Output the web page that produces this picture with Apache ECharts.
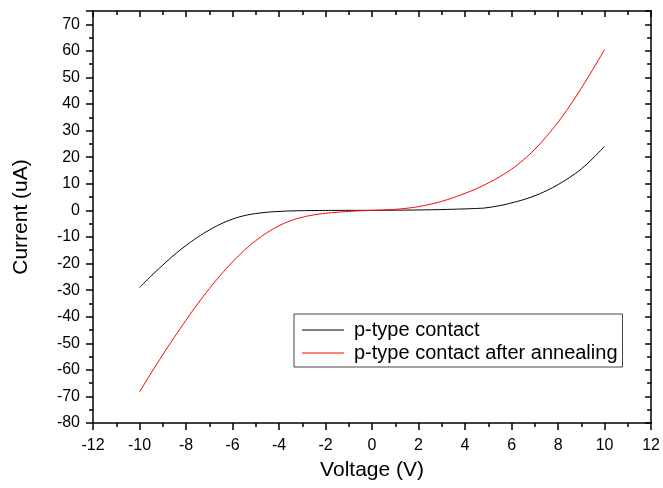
<!DOCTYPE html>
<html>
<head>
<meta charset="utf-8">
<script src="https://cdn.jsdelivr.net/npm/echarts@6/dist/echarts.min.js"></script>
<style>html,body{margin:0;padding:0;background:#fff}#c{width:663px;height:488px}</style>
</head>
<body>
<div id="c"></div>
<script>
var voltsBlack = [-10,-9.5,-9,-8.5,-8,-7.5,-7,-6.5,-6,-5.5,-5,-4.5,-4,-3.5,-3,-2.5,-2,-1.5,-1,-0.5,0,0.5,1,1.5,2,2.5,3,3.5,4,4.5,4.85,5.5,6,6.5,7,7.5,8,8.5,9,9.5,10];
var currentBlack = [-29.1,-24.7,-20.6,-16.7,-13.2,-10.1,-7.4,-5.1,-3.3,-2.0,-1.2,-0.7,-0.4,-0.22,-0.12,-0.07,-0.04,-0.02,0,0,0,0.03,0.06,0.1,0.15,0.22,0.3,0.42,0.55,0.72,0.9,1.8,2.8,4.0,5.5,7.4,9.7,12.4,15.6,19.6,24.1];
var voltsRed = [-10,-9.5,-9,-8.5,-8,-7.5,-7,-6.5,-6,-5.5,-5,-4.5,-4,-3.5,-3,-2.5,-2,-1.5,-1,-0.5,0,0.5,1,1.5,2,2.5,3,3.5,4,4.5,5,5.5,6,6.5,7,7.5,8,8.5,9,9.5,10];
var currentRed = [-68.3,-61.2,-54.3,-47.7,-41.3,-35.2,-29.5,-24.2,-19.4,-15.1,-11.4,-8.3,-5.8,-3.9,-2.6,-1.7,-1.1,-0.7,-0.4,-0.15,0,0.15,0.4,0.8,1.4,2.3,3.4,4.8,6.4,8.2,10.3,12.7,15.5,18.9,23.0,27.8,33.2,39.3,46.0,53.1,60.5];
var seriesNames = ['p-type contact','p-type contact after annealing'];

function pairs(xs, ys){ return xs.map(function(x,i){ return [x, ys[i]]; }); }

var font = 'Liberation Sans, Arial, sans-serif';
var chart = echarts.init(document.getElementById('c'));
var axisLine = {show:true, onZero:false, lineStyle:{color:'#000', width:1.5}};
chart.setOption({
  animation:false,
  grid:{left:93, right:10, top:11, bottom:65, containLabel:false},
  legend:{
    orient:'vertical', left:294, top:314,
    data:[{name:seriesNames[0], icon:'rect'},{name:seriesNames[1], icon:'rect'}],
    itemWidth:42, itemHeight:1, itemGap:3,
    borderColor:'#444', borderWidth:1, padding:[6,5,4,8],
    textStyle:{fontFamily:font, fontSize:20, color:'#000', padding:[0,0,0,5]},
    backgroundColor:'#fff'
  },
  xAxis:[{
    type:'value', min:-12, max:12, interval:2, position:'bottom',
    name:'Voltage (V)', nameLocation:'middle', nameGap:37,
    nameTextStyle:{fontFamily:font, fontSize:21, color:'#000'},
    axisLine:axisLine,
    axisTick:{show:true, inside:false, length:7, lineStyle:{color:'#000', width:1.5}},
    minorTick:{show:true, splitNumber:2, length:4, lineStyle:{color:'#000', width:1.5}},
    axisLabel:{fontFamily:font, fontSize:16, color:'#000', margin:15},
    splitLine:{show:false}
  },{
    type:'value', min:-12, max:12, interval:2, position:'top',
    axisLine:axisLine,
    axisTick:{show:true, inside:true, length:6, lineStyle:{color:'#000', width:1.5}},
    minorTick:{show:true, splitNumber:2, length:4, lineStyle:{color:'#000', width:1.5}},
    axisLabel:{show:false}, splitLine:{show:false}
  }],
  yAxis:[{
    type:'value', min:-80, max:75, interval:10, position:'left',
    name:'Current (uA)', nameLocation:'middle', nameGap:61,
    nameTextStyle:{fontFamily:font, fontSize:21, color:'#000'},
    axisLine:axisLine,
    axisTick:{show:true, inside:false, length:7, lineStyle:{color:'#000', width:1.5}},
    minorTick:{show:true, splitNumber:2, length:4, lineStyle:{color:'#000', width:1.5}},
    axisLabel:{fontFamily:font, fontSize:16, color:'#000', margin:13, showMaxLabel:false,
      formatter:function(v){ return v===75 ? '' : String(v); }},
    splitLine:{show:false}
  },{
    type:'value', min:-80, max:75, interval:10, position:'right',
    axisLine:axisLine,
    axisTick:{show:true, inside:true, length:6, lineStyle:{color:'#000', width:1.5}},
    minorTick:{show:true, splitNumber:2, length:4, lineStyle:{color:'#000', width:1.5}},
    axisLabel:{show:false}, splitLine:{show:false}
  }],
  series:[{
    name:seriesNames[0], type:'line', xAxisIndex:0, yAxisIndex:0,
    data:pairs(voltsBlack, currentBlack), showSymbol:false, smooth:0.4,
    lineStyle:{color:'#000', width:1}, itemStyle:{color:'#000'}
  },{
    name:seriesNames[1], type:'line', xAxisIndex:0, yAxisIndex:0,
    data:pairs(voltsRed, currentRed), showSymbol:false, smooth:0.4,
    lineStyle:{color:'#ff0000', width:1}, itemStyle:{color:'#ff0000'}
  }]
});
</script>
</body>
</html>
